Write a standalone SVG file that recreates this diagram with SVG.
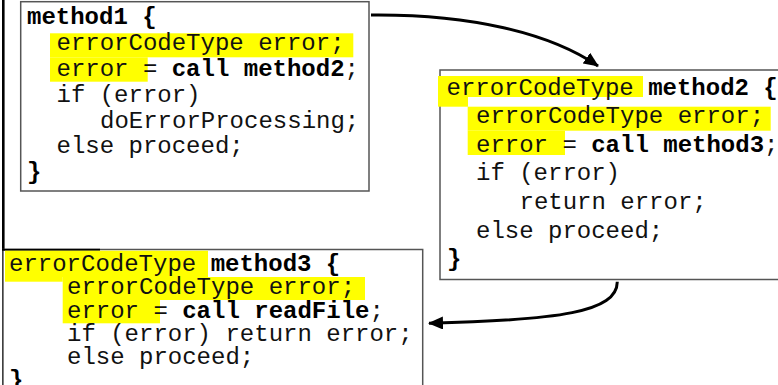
<svg xmlns="http://www.w3.org/2000/svg" width="778" height="385" viewBox="0 0 778 385">
<style>
  .box { fill: #ffffff; stroke: #555555; stroke-width: 1.5; }
  .hl { fill: #ffff00; }
  .code { font-family: "Liberation Mono", "Courier New", monospace; font-size: 24px; fill: #111111; }
  .b { font-weight: bold; fill: #000000; }
  .conn { fill: none; stroke: #000000; stroke-width: 3; }
</style>
<defs>
  <marker id="arrow" markerUnits="userSpaceOnUse" markerWidth="16" markerHeight="14" refX="14" refY="6.5" orient="auto">
    <path d="M0,0 L15,6.5 L0,13 z" fill="#000000"/>
  </marker>
</defs>
<rect x="0" y="0" width="778" height="385" fill="#ffffff"/>
<line x1="3.3" y1="0" x2="3.3" y2="385" stroke="#000000" stroke-width="2.6"/>

<g id="method1">
  <rect class="box" x="20.7" y="1.7" width="348.3" height="189.3"/>
  <rect class="hl" x="50" y="33.3" width="303.3" height="24"/>
  <rect class="hl" x="50" y="57.3" width="97.7" height="24.4"/>
  <text class="code" xml:space="preserve" x="27" y="24.3"><tspan class="b">method1 {</tspan></text>
  <text class="code" xml:space="preserve" x="56.5" y="50.1">errorCodeType error;</text>
  <text class="code" xml:space="preserve" x="56.5" y="75.9">error = <tspan class="b">call method2</tspan>;</text>
  <text class="code" xml:space="preserve" x="56.5" y="101.7">if (error)</text>
  <text class="code" xml:space="preserve" x="100" y="127.5">doErrorProcessing;</text>
  <text class="code" xml:space="preserve" x="56.5" y="153.3">else proceed;</text>
  <text class="code" xml:space="preserve" x="27" y="179.1"><tspan class="b">}</tspan></text>
</g>

<g id="method2">
  <rect class="box" x="440" y="70" width="350" height="209.5"/>
  <rect class="hl" x="438" y="76" width="205" height="21"/>
  <rect class="hl" x="438" y="96" width="30" height="10.7"/>
  <rect class="hl" x="467.7" y="106.7" width="303" height="24"/>
  <rect class="hl" x="467.7" y="130.7" width="97.3" height="24.3"/>
  <text class="code" xml:space="preserve" x="446.5" y="94.5">errorCodeType <tspan class="b">method2 {</tspan></text>
  <text class="code" xml:space="preserve" x="476" y="123.1">errorCodeType error;</text>
  <text class="code" xml:space="preserve" x="476" y="151.7">error = <tspan class="b">call method3</tspan>;</text>
  <text class="code" xml:space="preserve" x="476" y="180.3">if (error)</text>
  <text class="code" xml:space="preserve" x="519.5" y="208.9">return error;</text>
  <text class="code" xml:space="preserve" x="476" y="237.5">else proceed;</text>
  <text class="code" xml:space="preserve" x="447" y="266.1"><tspan class="b">}</tspan></text>
</g>

<g id="method3">
  <rect class="box" x="3" y="249.5" width="419.7" height="150"/>
  <line x1="2" y1="249.8" x2="100" y2="249.8" stroke="#000000" stroke-width="2"/>
  <rect class="hl" x="5" y="250.7" width="203" height="26.3"/>
  <rect class="hl" x="5" y="276" width="57.7" height="5.7"/>
  <rect class="hl" x="62.7" y="277" width="302.3" height="23"/>
  <rect class="hl" x="62.7" y="300" width="97.3" height="23.3"/>
  <text class="code" xml:space="preserve" x="9" y="271">errorCodeType <tspan class="b">method3 {</tspan></text>
  <text class="code" xml:space="preserve" x="67" y="294">errorCodeType error;</text>
  <text class="code" xml:space="preserve" x="67" y="317.5">error = <tspan class="b">call readFile</tspan>;</text>
  <text class="code" xml:space="preserve" x="67" y="340.5">if (error) return error;</text>
  <text class="code" xml:space="preserve" x="67" y="363.5">else proceed;</text>
  <text class="code" xml:space="preserve" x="9" y="387"><tspan class="b">}</tspan></text>
</g>

<g id="connectors">
  <path class="conn" d="M371,15 C470,14 550,33 598,66" marker-end="url(#arrow)"/>
  <path class="conn" d="M617.3,281.7 C617,312 560,320 429,323.3" marker-end="url(#arrow)"/>
</g>
</svg>
